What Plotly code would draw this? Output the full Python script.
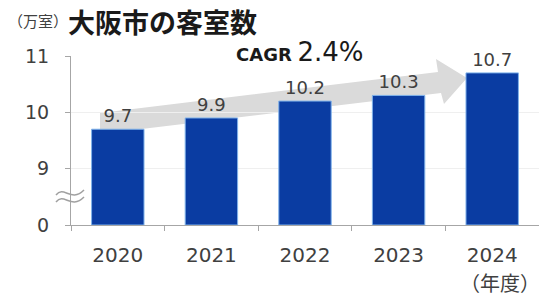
import plotly.graph_objects as go

years = ["2020", "2021", "2022", "2023", "2024"]
rooms = [9.7, 9.9, 10.2, 10.3, 10.7]
y_tick_values = [0, 9, 10, 11]
title_unit = "（万室）"
title_main = "大阪市の客室数"
cagr_label = "CAGR"
cagr_value = "2.4%"
x_unit = "（年度）"

W, H = 539, 302
L, R, T, B = 71, 0, 56, 77
PW = W - L - R
PH = H - T - B


def disp(v):
    # broken axis: 0..9 compressed into one unit, above 9 linear
    return v / 9.0 if v < 9 else v - 8.0


def px(x):
    return (x - L) / PW


def py(y):
    return (H - B - y) / PH


FONT = "DejaVu Sans, Noto Sans CJK JP, sans-serif"
TXT = "#404040"

fig = go.Figure()
fig.add_trace(go.Bar(
    x=years,
    y=[disp(v) for v in rooms],
    text=[f"{v:.1f}" for v in rooms],
    textposition="outside",
    textfont=dict(size=18, color=TXT, family=FONT),
    cliponaxis=False,
    marker=dict(color="#0a3ca2", line=dict(color="#7fb2ea", width=1)),
    width=0.56,
    hoverinfo="skip",
))

# arrow (decoration) in pixel coords -> paper
arrow_pts = [(100, 113), (438, 72), (436, 59), (467, 78), (444, 104), (441, 93), (100, 134)]
arrow_path = "M " + " L ".join(f"{px(a):.4f},{py(b):.4f}" for a, b in arrow_pts) + " Z"
shapes = [dict(type="path", xref="paper", yref="paper", path=arrow_path,
               fillcolor="#dadada", line=dict(width=0), layer="below")]

# break marks
for off in (0, 7):
    pts = [(56, 195 + off), (64, 185 + off), (71, 203 + off), (84, 190 + off)]
    p = (f"M {px(pts[0][0]):.4f},{py(pts[0][1]):.4f} C "
         + " ".join(f"{px(a):.4f},{py(b):.4f}" for a, b in pts[1:]))
    shapes.append(dict(type="path", xref="paper", yref="paper", path=p,
                       line=dict(color="#a0a0a0", width=1.5)))

annotations = [
    dict(text=title_unit, x=px(6), y=py(22), xref="paper", yref="paper",
         xanchor="left", yanchor="middle", showarrow=False,
         font=dict(size=15, color=TXT, family=FONT)),
    dict(text=f"<b>{title_main}</b>", x=px(66), y=py(21), xref="paper", yref="paper",
         xanchor="left", yanchor="middle", showarrow=False,
         font=dict(size=27, color="#1a1a1a", family="Noto Sans CJK JP")),
    dict(text=f"<b>{cagr_label}</b> <span style='font-size:26px'>{cagr_value}</span>",
         x=px(300), y=py(52), xref="paper", yref="paper",
         xanchor="center", yanchor="middle", showarrow=False,
         font=dict(size=18, color="#1a1a1a", family=FONT)),
    dict(text=x_unit, x=px(500), y=py(284), xref="paper", yref="paper",
         xanchor="center", yanchor="middle", showarrow=False,
         font=dict(size=20, color=TXT, family=FONT)),
]

fig.update_layout(
    width=W, height=H,
    margin=dict(l=L, r=R, t=T, b=B),
    paper_bgcolor="white", plot_bgcolor="white",
    showlegend=False,
    shapes=shapes,
    annotations=annotations,
    bargap=0.44,
)
fig.update_xaxes(
    type="category", range=[-0.5, 4.5],
    showline=True, linecolor="#a6a6a6", linewidth=1,
    ticks="outside", ticklen=5, tickcolor="#a6a6a6", tickson="boundaries",
    tickfont=dict(size=20, color=TXT, family=FONT),
    ticklabelstandoff=12,
    showgrid=False, zeroline=False, automargin=False,
)
fig.update_yaxes(
    range=[0, 3.0],
    tickvals=[disp(v) for v in y_tick_values],
    ticktext=[str(v) for v in y_tick_values],
    showline=True, linecolor="#a6a6a6", linewidth=1,
    ticks="outside", ticklen=5, tickcolor="#a6a6a6",
    tickfont=dict(size=19, color=TXT, family=FONT),
    ticklabelstandoff=12,
    showgrid=True, gridcolor="#efefef", zeroline=False, automargin=False,
)

fig.write_html("out.html", config={"displayModeBar": False},
               post_script="document.body.style.margin='0';document.body.style.overflow='hidden';")
